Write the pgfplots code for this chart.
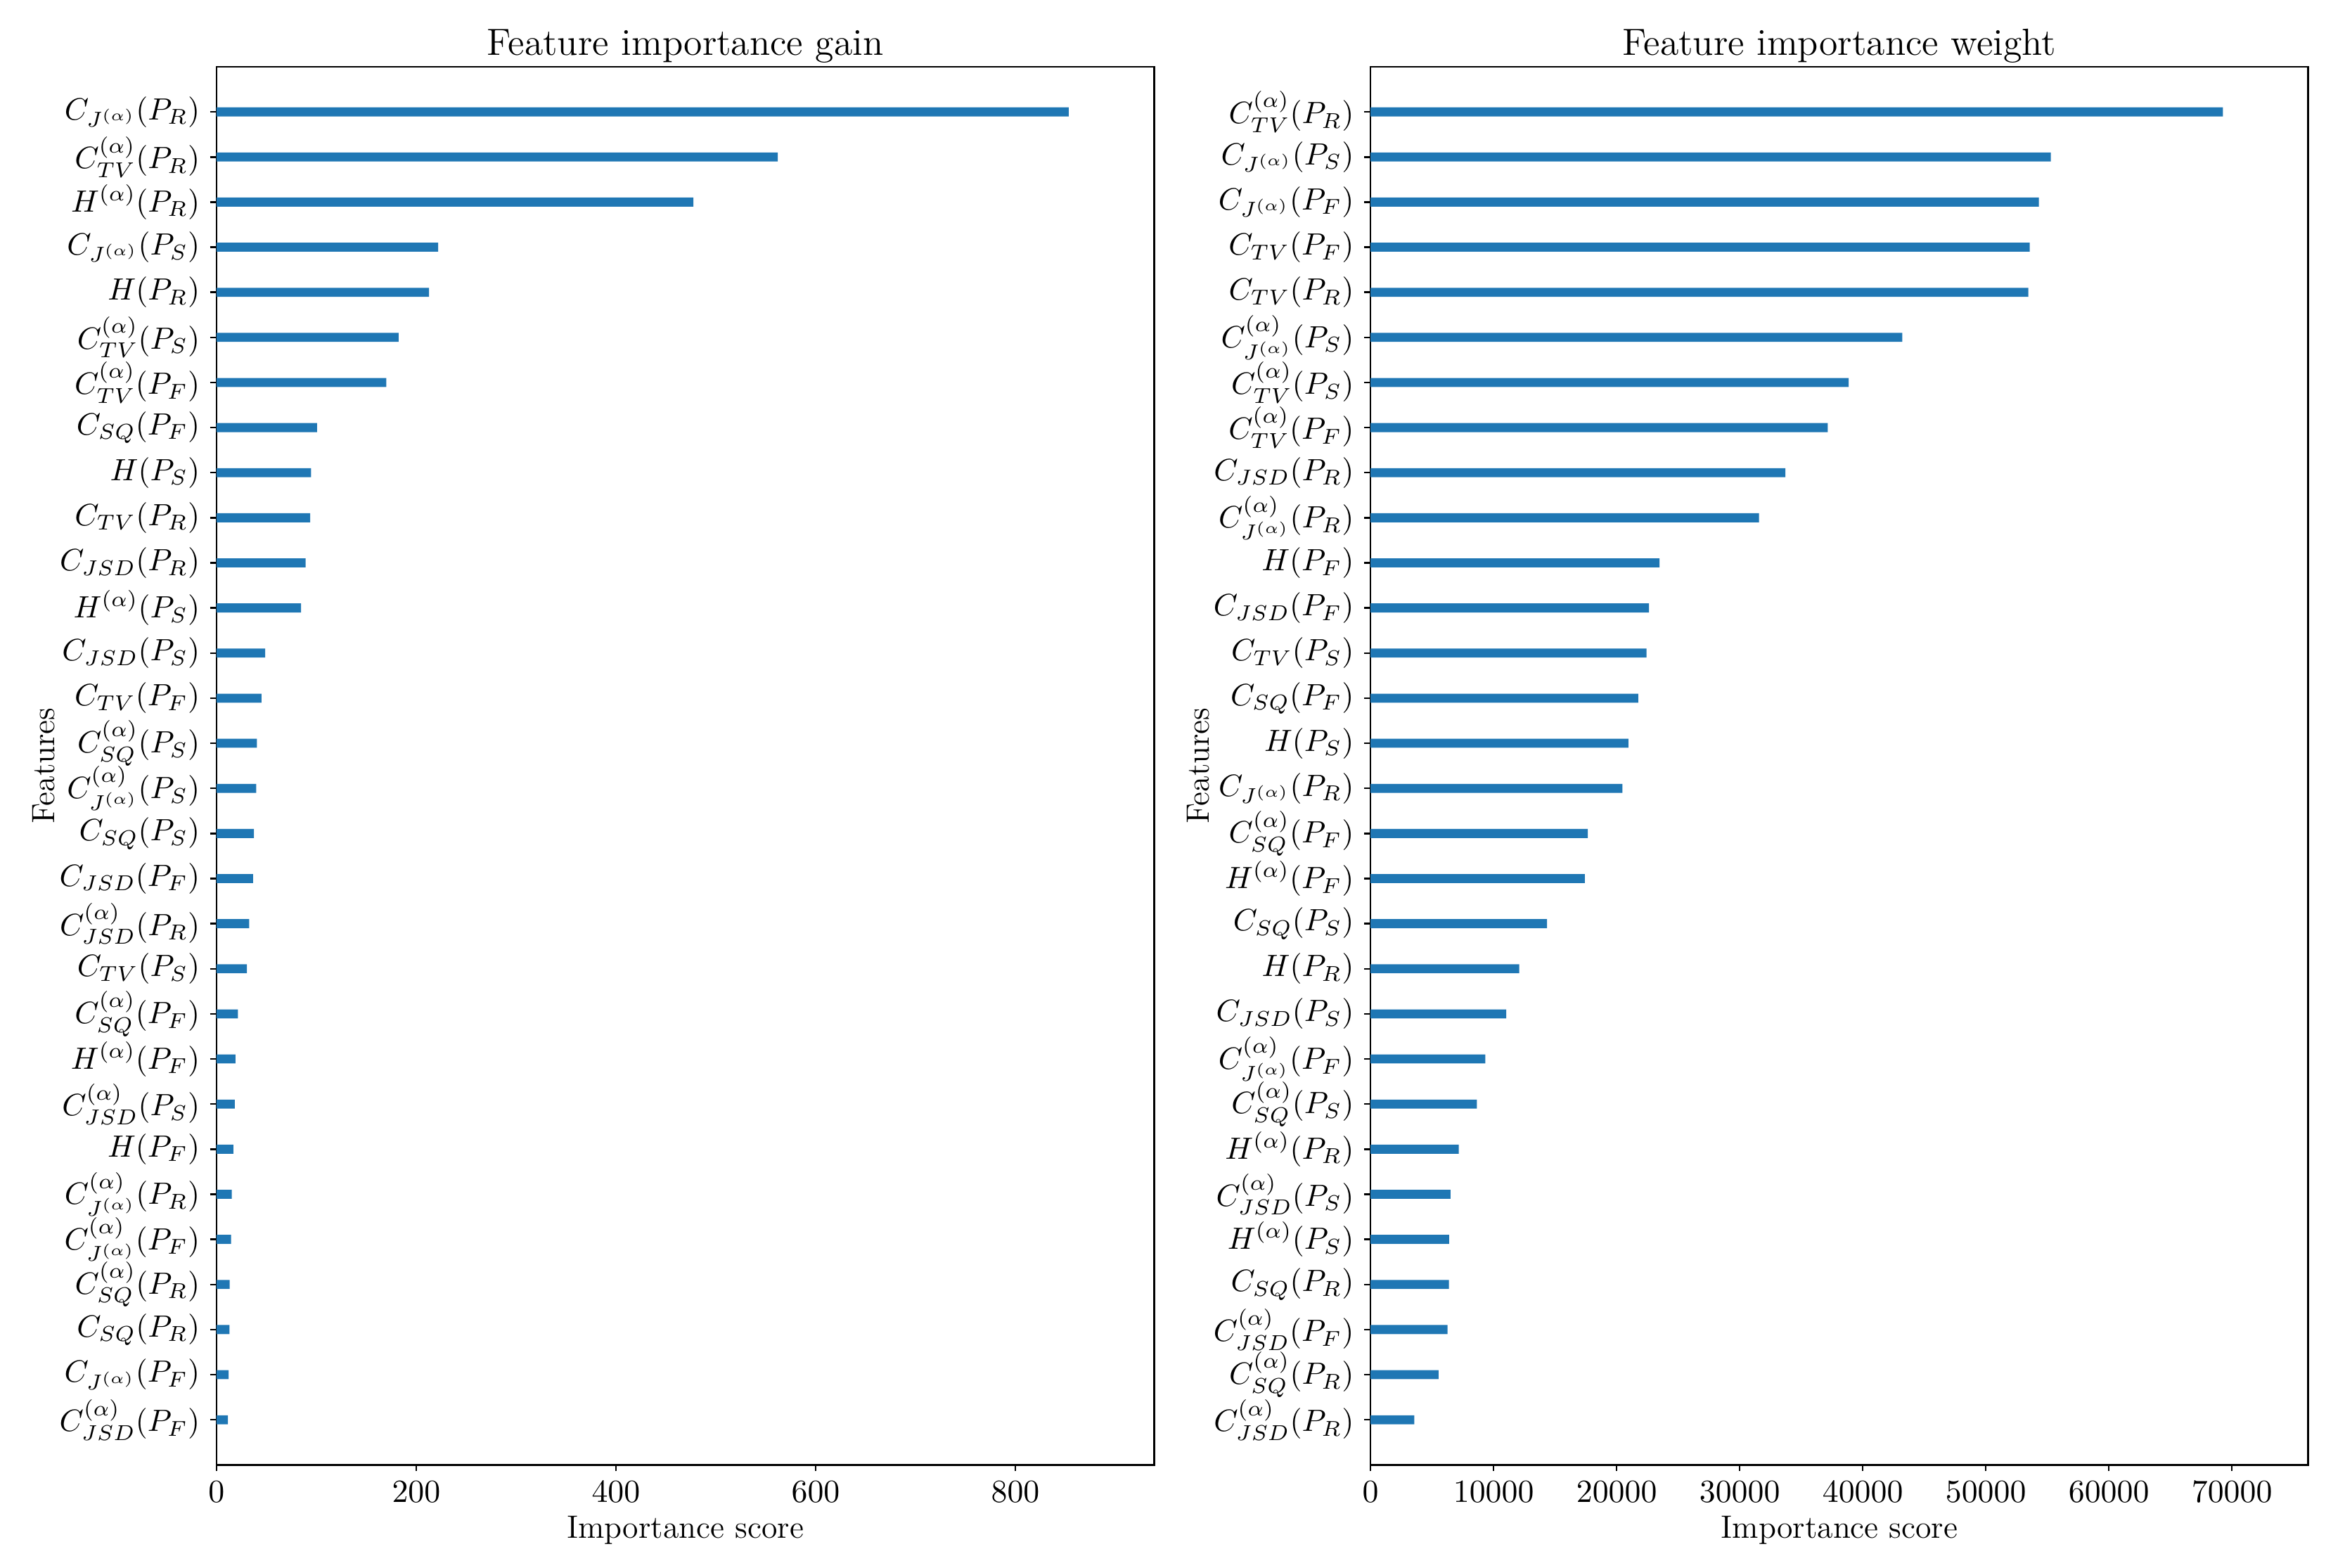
\RequirePackage{fix-cm}
\documentclass[border=0pt]{standalone}
\usepackage{pgfplots}
\pgfplotsset{compat=1.18}
\definecolor{mplblue}{HTML}{1F77B4}

% shared look of both panels
\pgfplotsset{
  imp/.style={
    xbar,
    scale only axis,
    width=320pt, height=477.2pt,
    anchor=south west,
    xmin=0, ymin=-1, ymax=30,
    ytick={0,...,29},
    xtick pos=left, ytick pos=left,
    tick align=outside,
    major tick length=2.2pt,
    axis line style={line width=0.6pt},
    every tick/.style={black, line width=0.6pt},
    xticklabel style={font=\fontsize{11}{13}\selectfont},
    yticklabel style={font=\fontsize{10.5}{12.5}\selectfont},
    every axis title/.style={font=\fontsize{12.9}{15.5}\selectfont, at={(0.5,1)}, anchor=base, yshift=4pt},
    xlabel style={font=\fontsize{11}{13}\selectfont, at={(axis description cs:0.5,0)}, anchor=base, yshift=-25pt},
    ylabel style={font=\fontsize{11}{13}\selectfont, at={([xshift=-55.2pt]axis description cs:0,0.5)}, anchor=base},
    xlabel={Importance score},
    ylabel={Features},
    scaled x ticks=false,
    /pgf/number format/.cd, fixed, 1000 sep={},
  },
  bars/.style={fill=mplblue, draw=none, bar width=0.2},
}

\begin{document}
\begin{tikzpicture}
\path[use as bounding box] (0,0) rectangle (800.4pt,535pt);

% gain
\begin{axis}[imp, at={(73.9pt,35pt)},
  title={Feature importance gain},
  xmax=938.9,
  xtick={0,200,...,800},
  yticklabels={
    {$C^{(\alpha)}_{JSD}(P_F)$},
    {$C_{J^{(\alpha)}}(P_F)$},
    {$C_{SQ}(P_R)$},
    {$C^{(\alpha)}_{SQ}(P_R)$},
    {$C^{(\alpha)}_{J^{(\alpha)}}(P_F)$},
    {$C^{(\alpha)}_{J^{(\alpha)}}(P_R)$},
    {$H(P_F)$},
    {$C^{(\alpha)}_{JSD}(P_S)$},
    {$H^{(\alpha)}(P_F)$},
    {$C^{(\alpha)}_{SQ}(P_F)$},
    {$C_{TV}(P_S)$},
    {$C^{(\alpha)}_{JSD}(P_R)$},
    {$C_{JSD}(P_F)$},
    {$C_{SQ}(P_S)$},
    {$C^{(\alpha)}_{J^{(\alpha)}}(P_S)$},
    {$C^{(\alpha)}_{SQ}(P_S)$},
    {$C_{TV}(P_F)$},
    {$C_{JSD}(P_S)$},
    {$H^{(\alpha)}(P_S)$},
    {$C_{JSD}(P_R)$},
    {$C_{TV}(P_R)$},
    {$H(P_S)$},
    {$C_{SQ}(P_F)$},
    {$C^{(\alpha)}_{TV}(P_F)$},
    {$C^{(\alpha)}_{TV}(P_S)$},
    {$H(P_R)$},
    {$C_{J^{(\alpha)}}(P_S)$},
    {$H^{(\alpha)}(P_R)$},
    {$C^{(\alpha)}_{TV}(P_R)$},
    {$C_{J^{(\alpha)}}(P_R)$}},
]
\addplot[bars] table {
x y
11.4 0
12.2 1
13.0 2
13.1 3
14.5 4
15.3 5
16.8 6
18.3 7
19.0 8
21.4 9
30.5 10
32.8 11
36.6 12
37.4 13
39.7 14
40.4 15
45.0 16
48.8 17
84.7 18
89.2 19
93.8 20
94.6 21
100.7 22
170.0 23
182.3 24
212.8 25
222.0 26
477.5 27
562.0 28
853.5 29
};
\end{axis}

% weight
\begin{axis}[imp, at={(467.8pt,35pt)},
  title={Feature importance weight},
  xmax=76193,
  xtick={0,10000,...,70000},
  yticklabels={
    {$C^{(\alpha)}_{JSD}(P_R)$},
    {$C^{(\alpha)}_{SQ}(P_R)$},
    {$C^{(\alpha)}_{JSD}(P_F)$},
    {$C_{SQ}(P_R)$},
    {$H^{(\alpha)}(P_S)$},
    {$C^{(\alpha)}_{JSD}(P_S)$},
    {$H^{(\alpha)}(P_R)$},
    {$C^{(\alpha)}_{SQ}(P_S)$},
    {$C^{(\alpha)}_{J^{(\alpha)}}(P_F)$},
    {$C_{JSD}(P_S)$},
    {$H(P_R)$},
    {$C_{SQ}(P_S)$},
    {$H^{(\alpha)}(P_F)$},
    {$C^{(\alpha)}_{SQ}(P_F)$},
    {$C_{J^{(\alpha)}}(P_R)$},
    {$H(P_S)$},
    {$C_{SQ}(P_F)$},
    {$C_{TV}(P_S)$},
    {$C_{JSD}(P_F)$},
    {$H(P_F)$},
    {$C^{(\alpha)}_{J^{(\alpha)}}(P_R)$},
    {$C_{JSD}(P_R)$},
    {$C^{(\alpha)}_{TV}(P_F)$},
    {$C^{(\alpha)}_{TV}(P_S)$},
    {$C^{(\alpha)}_{J^{(\alpha)}}(P_S)$},
    {$C_{TV}(P_R)$},
    {$C_{TV}(P_F)$},
    {$C_{J^{(\alpha)}}(P_F)$},
    {$C_{J^{(\alpha)}}(P_S)$},
    {$C^{(\alpha)}_{TV}(P_R)$}},
]
\addplot[bars] table {
x y
3555 0
5520 1
6250 2
6375 3
6380 4
6500 5
7170 6
8640 7
9320 8
11030 9
12080 10
14340 11
17410 12
17650 13
20470 14
20960 15
21760 16
22430 17
22620 18
23480 19
31570 20
33710 21
37150 22
38860 23
43210 24
53450 25
53570 26
54310 27
55290 28
69266 29
};
\end{axis}
\end{tikzpicture}
\end{document}
